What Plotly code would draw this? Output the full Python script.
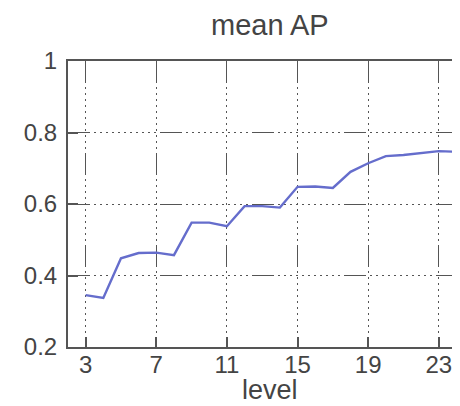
import plotly.graph_objects as go

levels = [3, 4, 5, 6, 7, 8, 9, 10, 11, 12, 13, 14, 15, 16, 17, 18, 19, 20, 21, 22, 23, 24]
mean_ap = [0.345, 0.337, 0.448, 0.463, 0.464, 0.457, 0.548, 0.548, 0.538, 0.594, 0.594, 0.590,
           0.648, 0.649, 0.645, 0.690, 0.714, 0.734, 0.737, 0.742, 0.748, 0.746]
x_ticks = [3, 7, 11, 15, 19, 23]
y_ticks = [0.2, 0.4, 0.6, 0.8, 1.0]
y_ticklabels = ["0.2", "0.4", "0.6", "0.8", "1"]

dash = "22px,4px" + ",2px,4px" * 11
font_family = "Liberation Sans, Arial, sans-serif"
text_color = "#444444"

fig = go.Figure()
fig.add_trace(go.Scatter(x=levels, y=mean_ap, mode="lines",
                         line=dict(color="#656dcc", width=2.4), showlegend=False))

fig.update_layout(
    width=452, height=398,
    margin=dict(l=60, r=0, t=53, b=59, autoexpand=False),
    paper_bgcolor="white", plot_bgcolor="white",
    font=dict(family=font_family, color=text_color, size=24),
    annotations=[
        dict(text="mean AP", xref="paper", yref="paper", x=0.515, y=1.126,
             xanchor="center", yanchor="middle", showarrow=False,
             font=dict(size=29, color=text_color)),
        dict(text="level", xref="paper", yref="paper", x=0.515, y=-0.152,
             xanchor="center", yanchor="middle", showarrow=False,
             font=dict(size=27, color=text_color)),
    ],
)
fig.update_xaxes(
    range=[2, 24.2], tickvals=x_ticks, ticktext=[str(v) for v in x_ticks],
    showline=True, linecolor="#555555", linewidth=2, mirror=True,
    ticks="inside", ticklen=10, tickwidth=2, tickcolor="#555555",
    showgrid=True, gridcolor="#555555", gridwidth=1.4, griddash=dash,
    zeroline=False, tickfont=dict(size=24), automargin=False, ticklabelstandoff=-5,
)
fig.update_yaxes(
    range=[0.2, 1.0], tickvals=y_ticks, ticktext=y_ticklabels,
    showline=True, linecolor="#555555", linewidth=2, mirror=False,
    ticks="inside", ticklen=10, tickwidth=2, tickcolor="#555555",
    showgrid=True, gridcolor="#555555", gridwidth=1.4, griddash=dash,
    zeroline=False, tickfont=dict(size=24), automargin=False, ticklabelstandoff=4,
)
fig.write_html("out.html")
